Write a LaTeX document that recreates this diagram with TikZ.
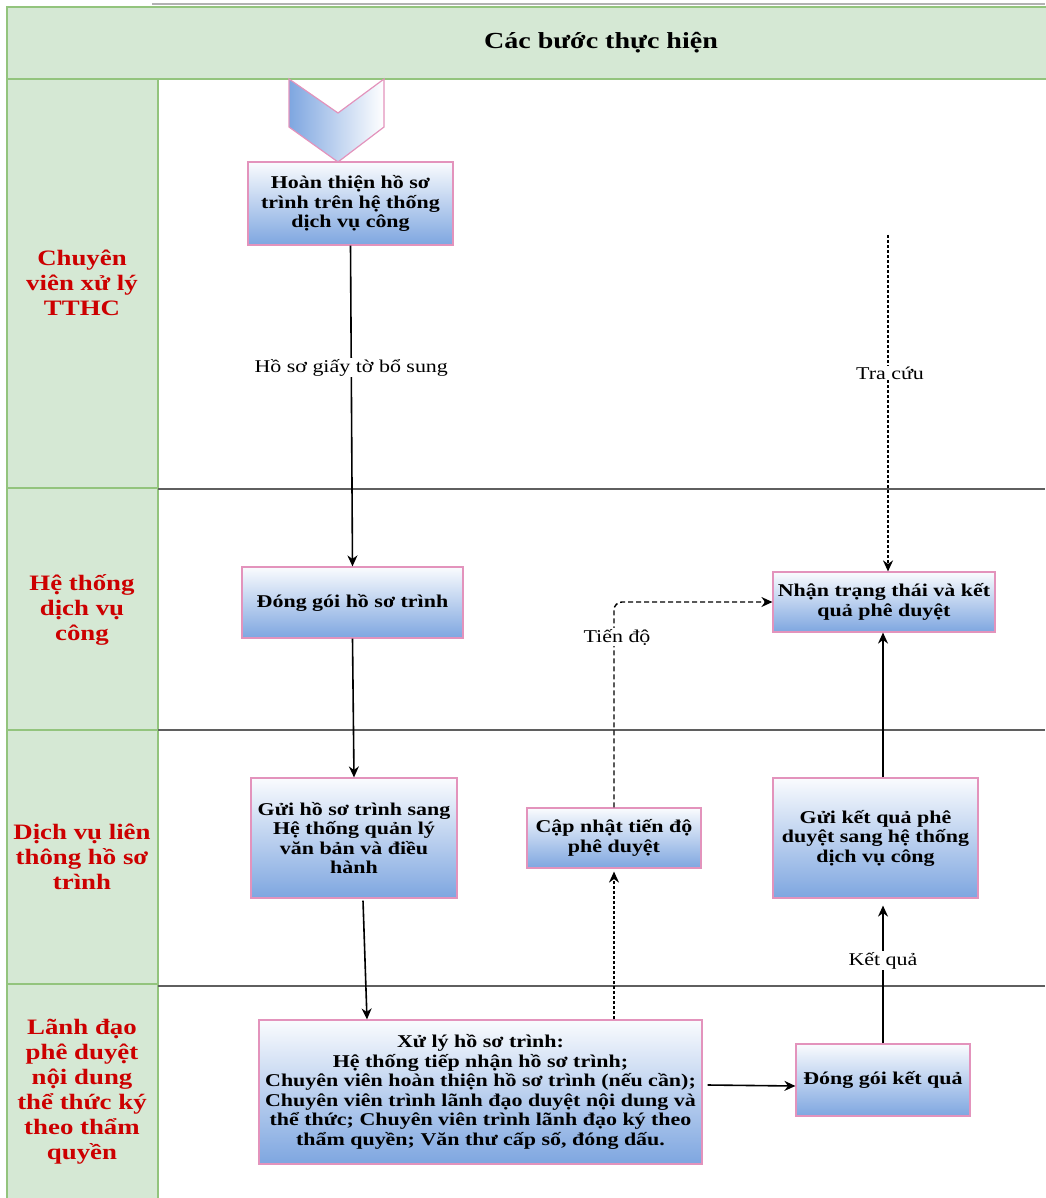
\documentclass[tikz,border=0pt]{standalone}
\usepackage{fontspec}
\setmainfont{Liberation Serif}[FakeStretch=1.22]
\usetikzlibrary{arrows.meta,calc}
\definecolor{lanegreen}{HTML}{D5E8D4}
\definecolor{laneedge}{HTML}{93C47D}
\definecolor{boxblue}{HTML}{7EA6E0}
\definecolor{boxedge}{HTML}{E393BC}
\definecolor{sepgrey}{HTML}{5F5F5F}
\definecolor{lanered}{HTML}{CC0000}
\begin{document}
\begin{tikzpicture}[x=1pt,y=-1pt,
  stepbox/.style={draw=boxedge,line width=1.2pt,top color=white!96!boxblue,bottom color=boxblue,
    inner sep=0pt,align=center,font=\bfseries\fontsize{18}{19.5}\selectfont},
  lanelabel/.style={align=center,text=lanered,font=\bfseries\fontsize{22}{25}\selectfont},
  flowlabel/.style={fill=white,inner sep=1pt,font=\fontsize{18}{20}\selectfont},
  arr/.style={line width=1.6pt,-{Stealth[length=11pt,width=10pt]}},
  dotarr/.style={arr,dash pattern=on 3pt off 2pt},
  dasharr/.style={arr,line width=1.4pt,dash pattern=on 5pt off 3pt,rounded corners=8pt}]
\useasboundingbox (0,0) rectangle (1045,1198);

% header band and lane column
\draw[line width=2pt,black!30] (152,4) -- (1045,4);
\draw[fill=lanegreen,draw=laneedge,line width=1.5pt] (1046,7) -- (7,7) -- (7,79) -- (1046,79);
\node[font=\bfseries\fontsize{23}{26}\selectfont] (title) at (601,43) {Các bước thực hiện};
\draw[fill=lanegreen,draw=laneedge,line width=1.5pt] (7,1199) -- (7,79) -- (158,79) -- (158,1199);
\foreach \yy in {488,730,984}
  \draw[laneedge,line width=1.5pt] (7,\yy) -- (158,\yy);
\draw[sepgrey,line width=1.6pt] (158,489) -- (1045,489);
\draw[sepgrey,line width=1.6pt] (158,730) -- (1045,730);
\draw[sepgrey,line width=1.6pt] (158,986) -- (1045,986);

% lane names
\node[lanelabel] (l1) at (82,283) {Chuyên\\viên xử lý\\TTHC};
\node[lanelabel] (l2) at (82,610) {Hệ thống\\dịch vụ\\công};
\node[lanelabel] (l3) at (82,857) {Dịch vụ liên\\thông hồ sơ\\trình};
\node[lanelabel] (l4) at (82,1092) {Lãnh đạo\\phê duyệt\\nội dung\\thể thức ký\\theo thẩm\\quyền};

% start marker
\draw[draw=boxedge,line width=1.2pt,left color=boxblue,right color=white]
  (289,79) -- (289,127) -- (338,162) -- (384,127) -- (384,79) -- (338,113) -- cycle;

% process steps
\node[stepbox,minimum width=205pt,minimum height=83pt] (b1) at (350.5,203.5)
  {Hoàn thiện hồ sơ\\trình trên hệ thống\\dịch vụ công};
\node[stepbox,minimum width=221pt,minimum height=71pt] (b2) at (352.5,602.5)
  {Đóng gói hồ sơ trình};
\node[stepbox,minimum width=206pt,minimum height=120pt] (b3) at (354,838)
  {Gửi hồ sơ trình sang\\Hệ thống quản lý\\văn bản và điều\\hành};
\node[stepbox,minimum width=443pt,minimum height=144pt] (b4) at (480.5,1092)
  {Xử lý hồ sơ trình:\\Hệ thống tiếp nhận hồ sơ trình;\\Chuyên viên hoàn thiện hồ sơ trình (nếu cần);\\Chuyên viên trình lãnh đạo duyệt nội dung và\\thể thức; Chuyên viên trình lãnh đạo ký theo\\thẩm quyền; Văn thư cấp số, đóng dấu.};
\node[stepbox,minimum width=174pt,minimum height=72pt] (b5) at (883,1080)
  {Đóng gói kết quả};
\node[stepbox,minimum width=205pt,minimum height=120pt] (b6) at (875.5,838)
  {Gửi kết quả phê\\duyệt sang hệ thống\\dịch vụ công};
\node[stepbox,minimum width=222pt,minimum height=60pt] (b7) at (884,602)
  {Nhận trạng thái và kết\\quả phê duyệt};
\node[stepbox,minimum width=174pt,minimum height=60pt] (b8) at (614,838)
  {Cập nhật tiến độ\\phê duyệt};

% connectors
\draw[arr] (b1.south) -- node[flowlabel,pos=0.38] {Hồ sơ giấy tờ bổ sung} (b2.north);
\draw[arr] (b2.south) -- (b3.north);
\draw[arr] ($(b3.south)+(9,2)$) -- ($(b4.north)+(-113.5,0)$);
\draw[arr] ($(b4.east)+(5,-7)$) -- ($(b5.west)+(0,6)$);
\draw[arr] (b5.north) -- node[flowlabel,pos=0.6] {Kết quả} ($(b6.south)+(7.5,7)$);
\draw[arr] ($(b6.north)+(7.5,0)$) -- ($(b7.south)+(-1,0)$);
\draw[dotarr] (b8.south |- b4.north) -- ($(b8.south)+(0,3)$);
\draw[dasharr] (b8.north) |- (b7.west);
\node[flowlabel] (tiendo) at (617,637) {Tiến độ};
\coordinate (tc) at (888,235);
\draw[dotarr] (tc) -- (tc |- b7.north);
\node[flowlabel] (tracuu) at (890,373) {Tra cứu};
\end{tikzpicture}
\end{document}
